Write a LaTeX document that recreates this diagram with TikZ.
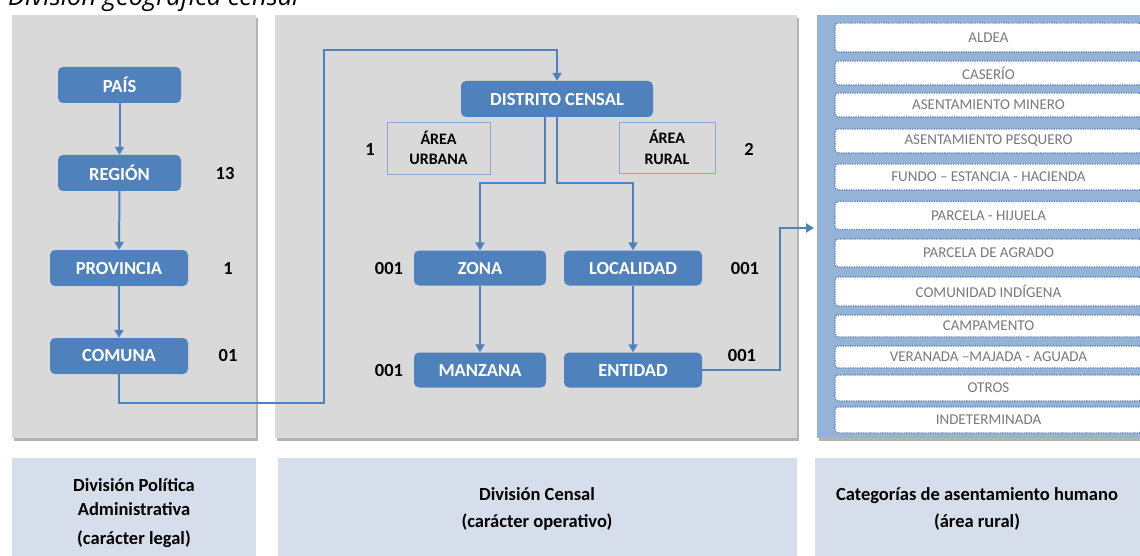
\documentclass[tikz,border=0pt]{standalone}
\usepackage{fontspec}
\setmainfont{Carlito}
\newfontfamily\titlefont{Open Sans}
\usetikzlibrary{arrows.meta}
\definecolor{panelgray}{HTML}{D9D9D9}
\definecolor{shadowgray}{HTML}{B3B3B3}
\definecolor{boxblue}{HTML}{4F81BD}
\definecolor{lightblue}{HTML}{95B3D7}
\definecolor{lavender}{HTML}{D7DEEB}
\definecolor{areaborder}{HTML}{8FA8C8}
\definecolor{cattext}{HTML}{7A7A7A}
\definecolor{dotblue}{HTML}{5B7FB8}
\begin{document}
\begin{tikzpicture}[x=1pt,y=-1pt,
  panel/.style={fill=panelgray,draw=none},
  shade/.style={fill=shadowgray,draw=none},
  unit/.style={fill=boxblue, rounded corners=5pt, text=white, font=\fontsize{18.5}{20}\selectfont\bfseries, inner sep=0pt, minimum height=36pt},
  num/.style={font=\fontsize{18.5}{20}\selectfont\bfseries, inner sep=0pt},
  areabox/.style={draw=areaborder, line width=0.8pt, align=center, inner sep=0pt, font=\fontsize{16}{20.5}\selectfont\bfseries},
  conn/.style={draw=boxblue, line width=2pt},
  arr/.style={conn, -{Triangle[width=9pt,length=8pt]}},
  cat/.style={fill=white, draw=dotblue, line width=1.3pt, dash pattern=on 1.3pt off 1.1pt, rounded corners=3pt, text=cattext, font=\fontsize{15}{18}\selectfont, inner sep=0pt, minimum width=307pt},
  foot/.style={align=center, font=\fontsize{18.5}{24.5}\selectfont\bfseries, inner sep=0pt}
]
\useasboundingbox (0,0) rectangle (1140,556);
\fill[white] (0,0) rectangle (1140,556);

% title (partly cut at top)
\node[anchor=base west, inner sep=0pt, font=\titlefont\itshape\fontsize{25.5}{28}\selectfont] (title) at (8,5.5) {División geográfica censal};

% panels with shadows
\fill[shade] (13.5,18) rectangle (257.5,440.5);
\fill[panel] (12,15) rectangle (256,438);
\fill[shade] (276.5,18) rectangle (798.5,440.5);
\fill[panel] (275,15) rectangle (797,438);
\fill[shade] (818.5,18) rectangle (1142,440.5);
\fill[lightblue] (817,15) rectangle (1142,438);

% bottom panels
\fill[lavender] (12,458) rectangle (256,560);
\fill[lavender] (278,458) rectangle (797,560);
\fill[lavender] (815,458) rectangle (1142,560);

% left column
\node[unit, minimum width=123pt] (pais) at (119.5,85) {PAÍS};
\node[unit, minimum width=123pt] (region) at (119.5,173) {REGIÓN};
\node[unit, minimum width=138pt] (provincia) at (119,268) {PROVINCIA};
\node[unit, minimum width=138pt] (comuna) at (119,356) {COMUNA};
\node[num] (n13) at (225,173) {13};
\node[num] (n1) at (228,268) {1};
\node[num] (n01) at (228,355) {01};

% middle
\node[unit, minimum width=192pt] (distrito) at (557,99) {DISTRITO CENSAL};
\node[areabox, minimum width=103pt, minimum height=52pt] (urbana) at (438.5,148) {ÁREA\\URBANA};
\node[areabox, minimum width=96pt, minimum height=51pt] (rural) at (667,147.5) {ÁREA\\RURAL};
\node[num] (nu) at (370,149) {1};
\node[num] (nr) at (749,149) {2};
\node[unit, minimum width=132pt, minimum height=35pt] (zona) at (480,268) {ZONA};
\node[unit, minimum width=138pt, minimum height=35pt] (localidad) at (633,268) {LOCALIDAD};
\node[unit, minimum width=132pt, minimum height=35pt] (manzana) at (480,370) {MANZANA};
\node[unit, minimum width=138pt, minimum height=35pt] (entidad) at (633,370) {ENTIDAD};
\node[num] (nz) at (389,268) {001};
\node[num] (nm) at (389,370) {001};
\node[num] (nl) at (745,268) {001};
\node[num] (ne) at (742,355) {001};

% categories
\node[cat, minimum height=29pt] (c1) at (988.5,37.5) {ALDEA};
\node[cat, minimum height=24pt] (c2) at (988.5,73) {CASERÍO};
\node[cat, minimum height=24pt] (c3) at (988.5,105) {ASENTAMIENTO MINERO};
\node[cat, minimum height=24pt] (c4) at (988.5,141) {ASENTAMIENTO PESQUERO};
\node[cat, minimum height=26pt] (c5) at (988.5,177) {FUNDO -- ESTANCIA - HACIENDA};
\node[cat, minimum height=28pt] (c6) at (988.5,215.5) {PARCELA - HIJUELA};
\node[cat, minimum height=28pt] (c7) at (988.5,253) {PARCELA DE AGRADO};
\node[cat, minimum height=29pt] (c8) at (988.5,291.5) {COMUNIDAD INDÍGENA};
\node[cat, minimum height=22pt] (c9) at (988.5,326) {CAMPAMENTO};
\node[cat, minimum height=22pt] (c10) at (988.5,357) {VERANADA --MAJADA - AGUADA};
\node[cat, minimum height=26pt] (c11) at (988.5,388) {OTROS};
\node[cat, minimum height=26pt] (c12) at (988.5,420) {INDETERMINADA};

% footers
\node[foot] (f1) at (134,513) {División Política\\Administrativa\\[4pt](carácter legal)};
\node[foot] (f2) at (537,509) {División Censal\\[2pt](carácter operativo)};
\node[foot] (f3) at (977,509) {Categorías de asentamiento humano\\[2pt](área rural)};

% connectors
\coordinate (bend1) at (324,402.5);
\coordinate (bend2) at (324,50.5);
\coordinate (split) at (0,183);
\coordinate (dl) at ([xshift=-12pt]distrito.south);
\coordinate (riser) at (780,228);
\coordinate (catin) at (814,228);

\draw[arr] (pais) -- (region);
\draw[arr] (region) -- (provincia);
\draw[arr] (provincia) -- (comuna);
\draw[arr] (comuna.south) |- (bend1) -- (bend2) -| (distrito.north);
\draw[arr] (dl) -- (dl |- split) -| (zona.north);
\draw[arr] (distrito.south) -- (distrito.south |- split) -| (localidad.north);
\draw[arr] (zona) -- (manzana);
\draw[arr] (localidad) -- (entidad);
\draw[arr] (entidad.east) -| (riser) -- (catin);
\end{tikzpicture}
\end{document}
